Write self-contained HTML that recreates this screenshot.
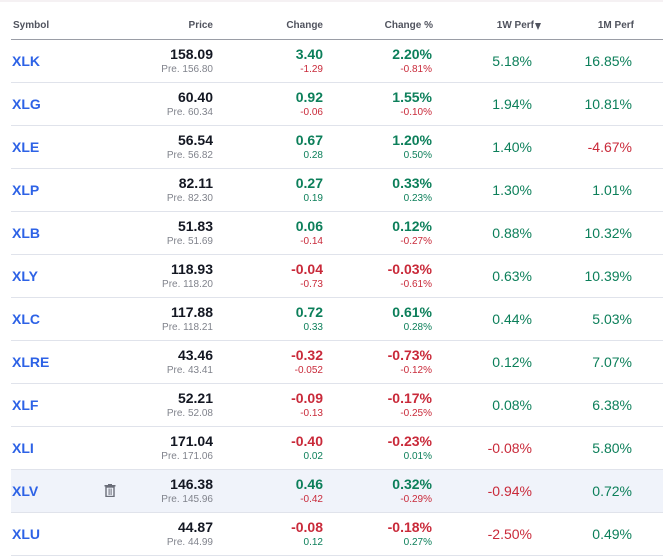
<!DOCTYPE html>
<html><head><meta charset="utf-8"><style>
*{margin:0;padding:0;box-sizing:border-box}
html,body{width:663px;height:560px;background:#fff;overflow:hidden}
body{position:relative;font-family:"Liberation Sans",Arial,sans-serif;color:#131722}
.top{position:absolute;left:0;top:0;width:663px;height:2px;background:#f5f1f3}
.hdr{position:absolute;top:20px;font-size:10px;line-height:12px;font-weight:bold;color:#50535e;white-space:nowrap}
.arrow{position:absolute;left:535px;top:23px;width:0;height:0;border-left:3.5px solid transparent;border-right:3.5px solid transparent;border-top:7px solid #50535e}
.hline{position:absolute;left:11px;top:39px;width:652px;height:1px;background:#9a9da6}
.row{position:absolute;left:0;width:663px;height:43px}
.row .bl{position:absolute;left:11px;top:42px;width:652px;height:1px;background:#e0e3eb}
.row.hl .bg{position:absolute;left:11px;top:0;width:652px;height:42px;background:#f0f3fa}
.sym{position:absolute;left:12px;top:13px;font-size:14px;line-height:16px;font-weight:bold;color:#2d62e6}
.m{position:absolute;top:6px;font-size:14px;line-height:16px;font-weight:bold;white-space:nowrap;text-align:right}
.s{position:absolute;top:23.5px;font-size:10px;line-height:12px;white-space:nowrap;text-align:right}
.p{position:absolute;top:13px;font-size:14px;line-height:16px;white-space:nowrap;text-align:right}
.c1{right:450px}.c2{right:340px}.c3{right:231px}.c4{right:131px}.c5{right:31px}
.g{color:#0c7f5a}.r{color:#c92a3a}.k{color:#131722}.gr{color:#80838c}
.trash{position:absolute;left:104px;top:14px}
</style></head><body>
<div class="top"></div>
<div class="hdr" style="left:13px">Symbol</div>
<div class="hdr" style="right:450px">Price</div>
<div class="hdr" style="right:340px">Change</div>
<div class="hdr" style="right:230px">Change %</div>
<div class="hdr" style="right:129px">1W Perf</div>
<div class="arrow"></div>
<div class="hdr" style="right:29px">1M Perf</div>
<div class="hline"></div>

<div class="row" style="top:40px"><div class="bl"></div><div class="sym">XLK</div>
<div class="m c1 k">158.09</div><div class="s c1 gr">Pre. 156.80</div>
<div class="m c2 g">3.40</div><div class="s c2 r">-1.29</div>
<div class="m c3 g">2.20%</div><div class="s c3 r">-0.81%</div>
<div class="p c4 g">5.18%</div><div class="p c5 g">16.85%</div></div>

<div class="row" style="top:83px"><div class="bl"></div><div class="sym">XLG</div>
<div class="m c1 k">60.40</div><div class="s c1 gr">Pre. 60.34</div>
<div class="m c2 g">0.92</div><div class="s c2 r">-0.06</div>
<div class="m c3 g">1.55%</div><div class="s c3 r">-0.10%</div>
<div class="p c4 g">1.94%</div><div class="p c5 g">10.81%</div></div>

<div class="row" style="top:126px"><div class="bl"></div><div class="sym">XLE</div>
<div class="m c1 k">56.54</div><div class="s c1 gr">Pre. 56.82</div>
<div class="m c2 g">0.67</div><div class="s c2 g">0.28</div>
<div class="m c3 g">1.20%</div><div class="s c3 g">0.50%</div>
<div class="p c4 g">1.40%</div><div class="p c5 r">-4.67%</div></div>

<div class="row" style="top:169px"><div class="bl"></div><div class="sym">XLP</div>
<div class="m c1 k">82.11</div><div class="s c1 gr">Pre. 82.30</div>
<div class="m c2 g">0.27</div><div class="s c2 g">0.19</div>
<div class="m c3 g">0.33%</div><div class="s c3 g">0.23%</div>
<div class="p c4 g">1.30%</div><div class="p c5 g">1.01%</div></div>

<div class="row" style="top:212px"><div class="bl"></div><div class="sym">XLB</div>
<div class="m c1 k">51.83</div><div class="s c1 gr">Pre. 51.69</div>
<div class="m c2 g">0.06</div><div class="s c2 r">-0.14</div>
<div class="m c3 g">0.12%</div><div class="s c3 r">-0.27%</div>
<div class="p c4 g">0.88%</div><div class="p c5 g">10.32%</div></div>

<div class="row" style="top:255px"><div class="bl"></div><div class="sym">XLY</div>
<div class="m c1 k">118.93</div><div class="s c1 gr">Pre. 118.20</div>
<div class="m c2 r">-0.04</div><div class="s c2 r">-0.73</div>
<div class="m c3 r">-0.03%</div><div class="s c3 r">-0.61%</div>
<div class="p c4 g">0.63%</div><div class="p c5 g">10.39%</div></div>

<div class="row" style="top:298px"><div class="bl"></div><div class="sym">XLC</div>
<div class="m c1 k">117.88</div><div class="s c1 gr">Pre. 118.21</div>
<div class="m c2 g">0.72</div><div class="s c2 g">0.33</div>
<div class="m c3 g">0.61%</div><div class="s c3 g">0.28%</div>
<div class="p c4 g">0.44%</div><div class="p c5 g">5.03%</div></div>

<div class="row" style="top:341px"><div class="bl"></div><div class="sym">XLRE</div>
<div class="m c1 k">43.46</div><div class="s c1 gr">Pre. 43.41</div>
<div class="m c2 r">-0.32</div><div class="s c2 r">-0.052</div>
<div class="m c3 r">-0.73%</div><div class="s c3 r">-0.12%</div>
<div class="p c4 g">0.12%</div><div class="p c5 g">7.07%</div></div>

<div class="row" style="top:384px"><div class="bl"></div><div class="sym">XLF</div>
<div class="m c1 k">52.21</div><div class="s c1 gr">Pre. 52.08</div>
<div class="m c2 r">-0.09</div><div class="s c2 r">-0.13</div>
<div class="m c3 r">-0.17%</div><div class="s c3 r">-0.25%</div>
<div class="p c4 g">0.08%</div><div class="p c5 g">6.38%</div></div>

<div class="row" style="top:427px"><div class="bl"></div><div class="sym">XLI</div>
<div class="m c1 k">171.04</div><div class="s c1 gr">Pre. 171.06</div>
<div class="m c2 r">-0.40</div><div class="s c2 g">0.02</div>
<div class="m c3 r">-0.23%</div><div class="s c3 g">0.01%</div>
<div class="p c4 r">-0.08%</div><div class="p c5 g">5.80%</div></div>

<div class="row hl" style="top:470px"><div class="bg"></div><div class="bl"></div><div class="sym">XLV</div>
<svg class="trash" width="12" height="13" viewBox="0 0 12 13"><rect x="0.5" y="1" width="11" height="1.5" fill="#6a6d78"/><rect x="4" y="0" width="4" height="1.5" fill="#6a6d78"/><rect x="2" y="3" width="8" height="9.5" fill="none" stroke="#6a6d78" stroke-width="1.4"/><rect x="4.6" y="4.5" width="1" height="6.5" fill="#6a6d78"/><rect x="6.6" y="4.5" width="1" height="6.5" fill="#6a6d78"/></svg>
<div class="m c1 k">146.38</div><div class="s c1 gr">Pre. 145.96</div>
<div class="m c2 g">0.46</div><div class="s c2 r">-0.42</div>
<div class="m c3 g">0.32%</div><div class="s c3 r">-0.29%</div>
<div class="p c4 r">-0.94%</div><div class="p c5 g">0.72%</div></div>

<div class="row" style="top:513px"><div class="bl"></div><div class="sym">XLU</div>
<div class="m c1 k">44.87</div><div class="s c1 gr">Pre. 44.99</div>
<div class="m c2 r">-0.08</div><div class="s c2 g">0.12</div>
<div class="m c3 r">-0.18%</div><div class="s c3 g">0.27%</div>
<div class="p c4 r">-2.50%</div><div class="p c5 g">0.49%</div></div>
</body></html>
